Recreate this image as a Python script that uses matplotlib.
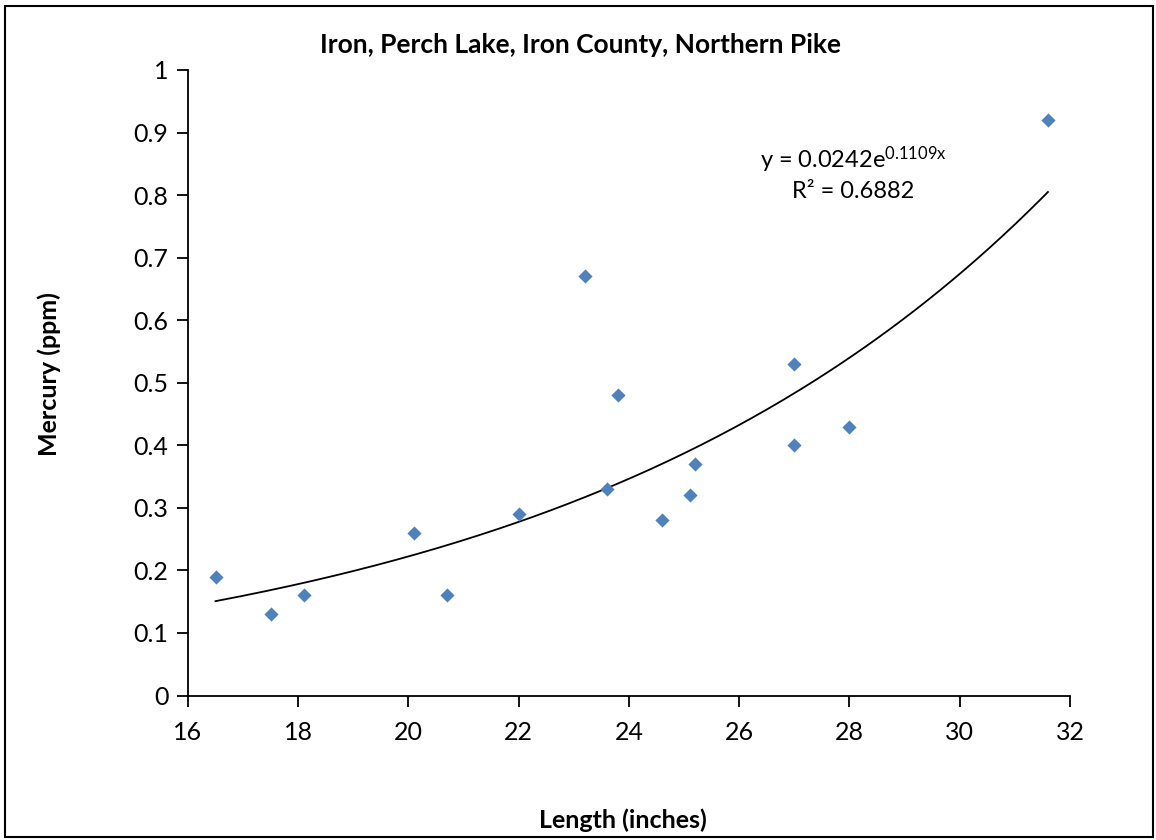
import numpy as np
import matplotlib
matplotlib.use("Agg")
import matplotlib.pyplot as plt
from matplotlib.patches import Rectangle

plt.rcParams['font.family'] = ['Lato', 'DejaVu Sans']
plt.rcParams['mathtext.fontset'] = 'custom'
plt.rcParams['mathtext.rm'] = 'Lato'
plt.rcParams['mathtext.it'] = 'Lato'

# data
length_in = [16.5, 17.5, 18.1, 20.1, 20.7, 22.0, 23.2, 23.6, 23.8, 24.6, 25.1, 25.2, 27.0, 27.0, 28.0, 31.6]
mercury_ppm = [0.19, 0.13, 0.16, 0.26, 0.16, 0.29, 0.67, 0.33, 0.48, 0.28, 0.32, 0.37, 0.53, 0.40, 0.43, 0.92]

# exponential trendline as stated on the chart
fit_a, fit_b, fit_r2 = 0.0242, 0.1109, 0.6882

fig = plt.figure(figsize=(11.56, 8.4), dpi=100)
ax = fig.add_axes([0.1626, 0.172, 0.763, 0.7447])

ax.scatter(length_in, mercury_ppm, marker='D', s=52, color='#4F81BD', zorder=3, linewidths=0)

xs = np.linspace(min(length_in), max(length_in), 200)
ax.plot(xs, fit_a * np.exp(fit_b * xs), color='black', lw=1.3, zorder=2)

ax.set_xlim(16, 32)
ax.set_ylim(0, 1)
ax.set_xticks(np.arange(16, 33, 2))
ax.set_yticks(np.arange(0, 1.01, 0.1))
ax.set_yticklabels(['0', '0.1', '0.2', '0.3', '0.4', '0.5', '0.6', '0.7', '0.8', '0.9', '1'])
ax.tick_params(direction='out', length=8, width=1.3, labelsize=18, pad=6)
ax.tick_params(axis='x', pad=10)
for s in ['top', 'right']:
    ax.spines[s].set_visible(False)
for s in ['left', 'bottom']:
    ax.spines[s].set_linewidth(1.3)

fig.text(0.502, 0.946, 'Iron, Perch Lake, Iron County, Northern Pike', fontsize=19,
         fontweight='bold', ha='center', va='center')
fig.text(0.043, 0.555, 'Mercury (ppm)', fontsize=18, fontweight='bold', rotation=90,
         ha='center', va='center')
fig.text(0.539, 0.024, 'Length (inches)', fontsize=18, fontweight='bold', ha='center', va='center')

ax.text(0.754, 0.856, r'y = %.4fe$^{%.4fx}$' % (fit_a, fit_b), transform=ax.transAxes,
        fontsize=17, ha='center', va='center')
ax.text(0.754, 0.805, 'R² = %.4f' % fit_r2, transform=ax.transAxes,
        fontsize=17, ha='center', va='center')

fig.patches.append(Rectangle((0.004, 0.003), 0.993, 0.99, transform=fig.transFigure,
                             fill=False, edgecolor='black', lw=1.5))

fig.savefig('out.png', dpi=100)
